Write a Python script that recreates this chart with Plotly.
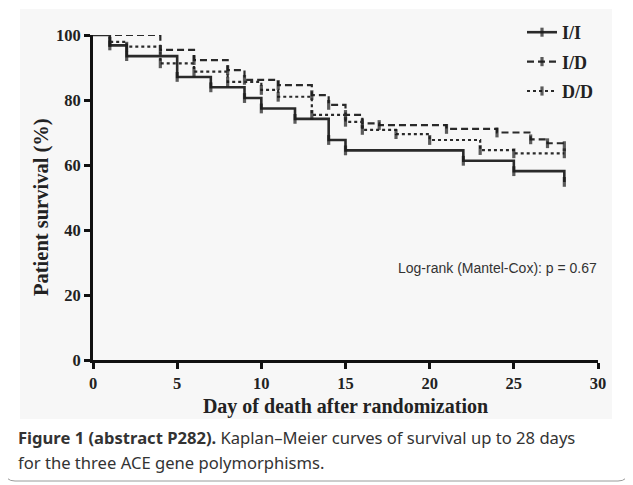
import plotly.graph_objects as go

# ---- data ----
ii_days = [0, 1, 2, 5, 7, 9, 10, 12, 14, 15, 22, 25, 28]
ii_surv = [100, 96.8, 93.5, 87.1, 83.9, 80.6, 77.4, 74.2, 67.7, 64.5, 61.3, 58.1, 54.8]

id_days = [0, 4, 6, 8, 9, 11, 13, 14, 15, 16, 17, 21, 24, 26, 27, 28]
id_surv = [100, 95.4, 92.3, 89.2, 86.2, 84.6, 81.5, 78.5, 75.4, 72.8, 72.3, 71.1, 70.0, 67.9, 66.7, 65.8]

dd_days = [0, 1, 2, 4, 6, 8, 10, 11, 13, 15, 16, 18, 20, 23, 25, 28]
dd_surv = [100, 97.9, 96.4, 91.3, 88.7, 85.6, 83.1, 81.0, 75.4, 73.3, 70.8, 69.5, 67.7, 64.6, 63.6, 63.6]

series_names = ["I/I", "I/D", "D/D"]
x_ticks = [0, 5, 10, 15, 20, 25, 30]
y_ticks = [0, 20, 40, 60, 80, 100]

# the page body adds an 8px margin; lay the figure out in page pixels
OFF = 8
W, H = 633 - OFF, 485 - OFF
PL, PR, PT, PB = 93, 598, 35, 360          # plot area in page pixels
L, R, T, B = PL - OFF, W - (PR - OFF), PT - OFF, H - (PB - OFF)
pw, ph = W - L - R, H - T - B


def px(p):
    return (p - OFF - L) / pw


def py(p):
    return (H - B - (p - OFF)) / ph


serif = "Liberation Serif"
sans = "Liberation Sans"

fig = go.Figure()
styles = [
    dict(dash="solid", width=2.6),
    dict(dash="7px,4px", width=2.2),
    dict(dash="3px,3px", width=2.2),
]
for name, d, s, st in zip(series_names, [ii_days, id_days, dd_days], [ii_surv, id_surv, dd_surv], styles):
    fig.add_trace(go.Scatter(
        x=d, y=s, name=name, mode="lines+markers", line_shape="hv",
        line=dict(color="#2a2a2a", width=st["width"], dash=st["dash"]),
        marker=dict(symbol="line-ns", size=[0] + [7] * (len(d) - 1),
                    line=dict(color="#1a1a1a", width=3.2)),
        legendgroup=name, cliponaxis=False,
    ))

fig.update_layout(
    width=W, height=H,
    margin=dict(l=L, r=R, t=T, b=B, autoexpand=False),
    paper_bgcolor="white", plot_bgcolor="rgba(0,0,0,0)",
    showlegend=True,
    legend=dict(x=px(522), y=py(14), xanchor="left", yanchor="top",
                font=dict(family=serif, size=18, color="#222", weight="bold"),
                bgcolor="rgba(0,0,0,0)", tracegroupgap=3, itemwidth=30),
    xaxis=dict(range=[0, 30], tickvals=x_ticks, showgrid=False, zeroline=False,
               showline=True, linewidth=3, linecolor="#111", mirror=False,
               ticks="outside", ticklen=6, tickwidth=3, tickcolor="#111",
               tickfont=dict(family=serif, size=16.5, color="#222", weight="bold"),
               title=dict(text="Day of death after randomization", standoff=8,
                          font=dict(family=serif, size=20, color="#222", weight="bold"))),
    yaxis=dict(range=[0, 100], tickvals=y_ticks, showgrid=False, zeroline=False,
               showline=True, linewidth=3, linecolor="#111",
               ticks="outside", ticklen=6, tickwidth=3, tickcolor="#111",
               tickfont=dict(family=serif, size=16.5, color="#222", weight="bold")),
)

# y-axis title placed as rotated text (sits a little below the axis centre in the reference)
fig.add_annotation(x=px(42), y=py(207), xref="paper", yref="paper", textangle=-90,
                   xanchor="center", yanchor="middle",
                   text="<b>Patient survival (%)</b>", showarrow=False,
                   font=dict(family=serif, size=20.5, color="#222"))

fig.add_annotation(x=24.0, y=28.3, xref="x", yref="y", text="Log-rank (Mantel-Cox): p = 0.67",
                   showarrow=False, font=dict(family=sans, size=14, color="#333"))

cap_font = dict(family="Noto Sans", size=16.6, color="#333")
fig.add_annotation(x=px(16), y=py(437), xref="paper", yref="paper", xanchor="left", yanchor="middle",
                   text="<b>Figure 1 (abstract P282).</b> Kaplan–Meier curves of survival up to 28 days",
                   showarrow=False, font=cap_font)
fig.add_annotation(x=px(16), y=py(462), xref="paper", yref="paper", xanchor="left", yanchor="middle",
                   text="for the three ACE gene polymorphisms.",
                   showarrow=False, font=cap_font)

# light background of the chart image and outer rounded frame
fig.add_shape(type="rect", xref="paper", yref="paper", x0=px(20), x1=px(612), y0=py(9), y1=py(419),
              fillcolor="#f7f7f7", line=dict(width=0), layer="below")
x0, x1, y0, y1, r = px(5), px(628), py(4), py(481), 10
rx, ry = r / pw, r / ph
path = (f"M {x0+rx},{y0} L {x1-rx},{y0} Q {x1},{y0} {x1},{y0-ry} L {x1},{y1+ry} Q {x1},{y1} {x1-rx},{y1} "
        f"L {x0+rx},{y1} Q {x0},{y1} {x0},{y1+ry} L {x0},{y0-ry} Q {x0},{y0} {x0+rx},{y0} Z")
fig.add_shape(type="path", xref="paper", yref="paper", path=path,
              line=dict(color="#9a9a9a", width=1), fillcolor="rgba(0,0,0,0)", layer="below")

fig.write_html("out.html")
